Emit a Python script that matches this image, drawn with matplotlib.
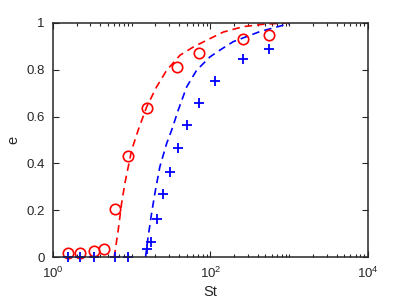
import numpy as np
import matplotlib.pyplot as plt
from matplotlib.ticker import LogLocator, NullFormatter, FixedLocator

plt.rcParams['font.family'] = ['Liberation Sans', 'DejaVu Sans']
plt.rcParams['mathtext.fontset'] = 'custom'
plt.rcParams['mathtext.rm'] = 'Liberation Sans'
plt.rcParams['mathtext.it'] = 'Liberation Sans:italic'

# measured points
st_red = [1.56, 2.2, 3.35, 4.4, 6.1, 9.0, 15.5, 38, 71, 256, 553]
e_red = [0.017, 0.017, 0.028, 0.034, 0.206, 0.43, 0.637, 0.811, 0.872, 0.932, 0.949]

st_blue = [1.56, 2.2, 3.35, 6.1, 9.0, 15.5, 17.6, 20.7, 25.2, 30.6, 38.3,
           49.9, 71.4, 116, 256, 553]
e_blue = [0.003, 0.003, 0.003, 0.0, 0.0, 0.034, 0.064, 0.163, 0.268, 0.364,
          0.466, 0.563, 0.658, 0.75, 0.843, 0.889]

# model curves (dashed)
st_red_fit = [6.0, 6.75, 7.45, 8.2, 10.0, 12.1, 15.5, 20.7, 27.8, 41, 60.5,
              89.5, 146, 261, 468, 1020]
e_red_fit = [0.0, 0.116, 0.23, 0.315, 0.457, 0.542, 0.641, 0.726, 0.797,
             0.861, 0.896, 0.925, 0.96, 0.983, 0.993, 1.0]

st_blue_fit = [15.0, 16.2, 17.9, 19.7, 22.8, 27.8, 32.2, 39, 49.9, 66.8,
               98.6, 132, 195, 425, 929, 1000]
e_blue_fit = [0.0, 0.088, 0.187, 0.272, 0.386, 0.485, 0.542, 0.627, 0.726,
              0.797, 0.854, 0.883, 0.919, 0.962, 0.993, 0.995]

fig = plt.figure(figsize=(4.07, 3.02), dpi=100)
ax = fig.add_axes([0.130, 0.148, 0.774, 0.777])

ax.plot(st_red_fit, e_red_fit, '--', color='#ff0000', lw=1.2, dashes=(4.5, 3))
ax.plot(st_blue_fit, e_blue_fit, '--', color='#0000ff', lw=1.2, dashes=(4.5, 3))
ax.plot(st_red, e_red, 'o', mfc='none', mec='#ff0000', ms=7.5, mew=1.2, clip_on=False)
ax.plot(st_blue, e_blue, '+', color='#0000ff', ms=7, mew=1.3, clip_on=False)

ax.set_xscale('log')
ax.set_xlim(1, 1e4)
ax.set_ylim(0, 1)
ax.xaxis.set_major_locator(FixedLocator([1, 1e2, 1e4]))
ax.xaxis.set_minor_locator(LogLocator(base=10, subs=np.arange(1, 10), numticks=20))
ax.xaxis.set_minor_formatter(NullFormatter())
ax.set_xticklabels([r'$10^0$', r'$10^2$', r'$10^4$'])
ax.set_yticks([0, 0.2, 0.4, 0.6, 0.8, 1])
ax.set_yticklabels(['0', '0.2', '0.4', '0.6', '0.8', '1'])

gray = '#262626'
for s in ax.spines.values():
    s.set_linewidth(1.1)
    s.set_color(gray)
ax.tick_params(which='both', direction='in', top=True, right=True,
               colors=gray, labelsize=9.5, width=0.8)
ax.tick_params(which='major', length=4)
ax.tick_params(which='minor', length=2.5)
ax.tick_params(axis='x', which='major', pad=6)
ax.tick_params(axis='y', which='major', pad=6)
ax.set_xlabel('St', fontsize=10.5, color=gray, labelpad=3)
ax.set_ylabel('e', fontsize=10.5, color=gray, labelpad=4)

fig.savefig('out.png', dpi=100)
